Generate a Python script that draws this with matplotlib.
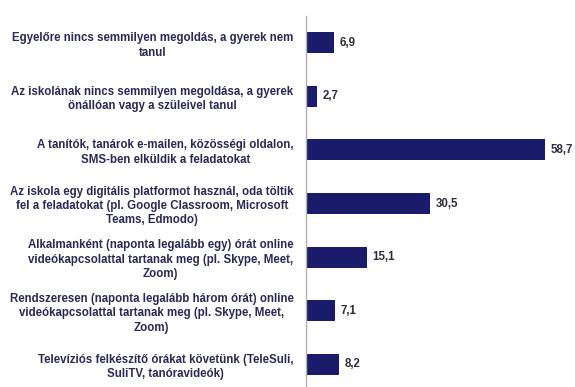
import matplotlib
matplotlib.use("Agg")
import matplotlib.pyplot as plt

categories = [
    "Egyelőre nincs semmilyen megoldás, a gyerek nem\ntanul",
    "Az iskolának nincs semmilyen megoldása, a gyerek\nönállóan vagy a szüleivel tanul",
    "A tanítók, tanárok e-mailen, közösségi oldalon,\nSMS-ben elküldik a feladatokat",
    "Az iskola egy digitális platformot használ, oda töltik\nfel a feladatokat (pl. Google Classroom, Microsoft\nTeams, Edmodo)",
    "Alkalmanként (naponta legalább egy) órát online\nvideókapcsolattal tartanak meg (pl. Skype, Meet,\nZoom)",
    "Rendszeresen (naponta legalább három órát) online\nvideókapcsolattal tartanak meg (pl. Skype, Meet,\nZoom)",
    "Televíziós felkészítő órákat követünk (TeleSuli,\nSuliTV, tanóravideók)",
]
values = [6.9, 2.7, 58.7, 30.5, 15.1, 7.1, 8.2]
value_labels = ["6,9", "2,7", "58,7", "30,5", "15,1", "7,1", "8,2"]

W, H = 575, 387
fig = plt.figure(figsize=(W / 100, H / 100), dpi=100)
ax_left = 306 / W
ax_top = 16 / H
ax = fig.add_axes([ax_left, 0, 1 - ax_left, 1 - ax_top])

bar_color = "#1b1b6b"
pos = list(range(len(values)))
ax.barh(pos, values, height=0.39, color=bar_color)

ax.set_xlim(0, (W - 306) / 4.07)
ax.set_ylim(6.5 - 4 / 53.5, -0.5)

for spine in ["top", "right", "bottom"]:
    ax.spines[spine].set_visible(False)
ax.spines["left"].set_color("#b0b0b8")
ax.spines["left"].set_linewidth(1.0)
ax.set_xticks([])
ax.set_yticks(pos)
ax.set_yticklabels(categories, fontsize=8.3, fontweight="bold",
                   color="#2a2a55", family="Liberation Sans", linespacing=1.25)
for t in ax.get_yticklabels():
    t.set_multialignment("center")
ax.tick_params(axis="y", length=0, pad=9)

for p, v, lab in zip(pos, values, value_labels):
    ax.text(v + 1.3, p, lab, va="center", ha="left", fontsize=8.3,
            fontweight="bold", color="#2d2d3d", family="Liberation Sans")

fig.savefig("out.png", dpi=100, facecolor="white")
